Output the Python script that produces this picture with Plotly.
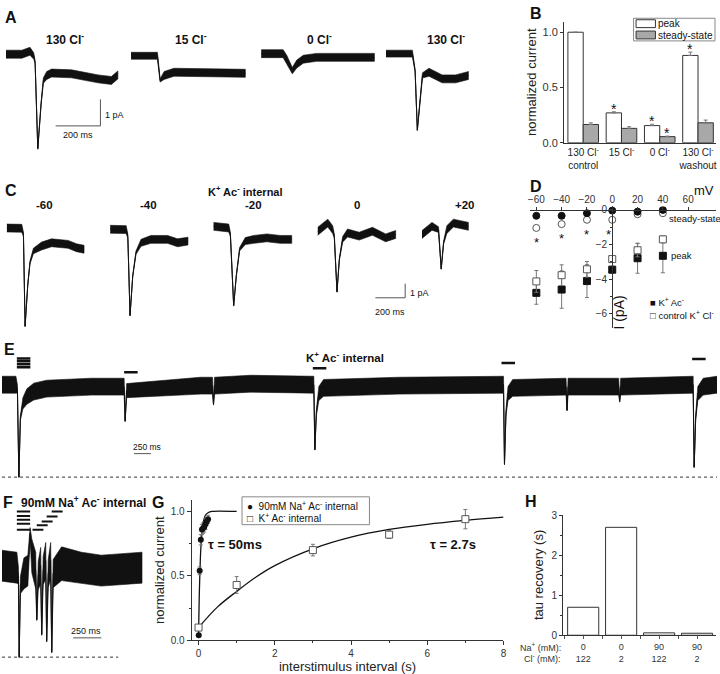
import numpy as np
import plotly.graph_objects as go

W, H = 720, 674
FONT = "Liberation Sans, Arial, Helvetica, sans-serif"

# ---------------- Panel A : example currents (ms from sweep start, pA) ----------------
A_TITLES = ["130 Cl<sup>-</sup>", "15 Cl<sup>-</sup>", "0 Cl<sup>-</sup>", "130 Cl<sup>-</sup>"]
A1_T = [0, 71, 107, 124, 130, 142, 157, 167, 182, 204, 293, 412, 471, 500]
A1_I = [0.0, 0.0, 0.11, -0.07, -0.30, -3.56, -1.85, -0.99, -0.80, -0.71, -0.74, -0.93, -0.99, -0.78]
A1_N = [0.15, 0.15, 0.15, 0.12, 0.05, 0.02, 0.04, 0.10, 0.15, 0.15, 0.15, 0.15, 0.15, 0.15]
A2_T = [0, 118, 130, 148, 192, 355, 511]
A2_I = [-0.06, -0.06, -0.99, -0.80, -0.68, -0.70, -0.72]
A2_N = [0.13, 0.13, 0.06, 0.15, 0.15, 0.15, 0.15]
A3_T = [0, 98, 114, 139, 159, 188, 247, 506]
A3_I = [0.02, 0.02, -0.19, -0.62, -0.37, -0.19, -0.12, -0.12]
A3_N = [0.15, 0.15, 0.15, 0.12, 0.15, 0.15, 0.15, 0.15]
A4_T = [0, 118, 130, 140, 151, 163, 192, 251, 311, 370]
A4_I = [0.02, 0.02, -0.62, -2.86, -1.85, -0.80, -0.68, -0.93, -0.93, -0.80]
A4_N = [0.13, 0.13, 0.05, 0.02, 0.04, 0.10, 0.15, 0.15, 0.15, 0.15]
A_SCALE = (200, 1)  # ms, pA

# ---------------- Panel B : normalized current ----------------
B_CATS = ["130 Cl<sup>-</sup><br>control", "15 Cl<sup>-</sup>", "0 Cl<sup>-</sup>", "130 Cl<sup>-</sup><br>washout"]
B_PEAK = [1.0, 0.27, 0.155, 0.79]
B_PEAK_ERR = [0.0, 0.01, 0.012, 0.03]
B_SS = [0.165, 0.13, 0.055, 0.18]
B_SS_ERR = [0.015, 0.015, 0.005, 0.025]
B_SIG_PEAK = [False, True, True, True]
B_SIG_SS = [False, False, True, False]

# ---------------- Panel C : K+ Ac- internal, voltage steps ----------------
C_TITLES = ["-60", "-40", "-20", "0", "+20"]
C1_T = [0, 100, 111, 122, 140, 155, 178, 233, 300, 411, 467, 518]
C1_I = [0.02, 0.0, -0.44, -6.97, -4.03, -2.43, -1.61, -1.26, -1.03, -1.14, -1.38, -1.49]
C1_N = [0.28, 0.28, 0.15, 0.03, 0.05, 0.10, 0.20, 0.28, 0.28, 0.28, 0.28, 0.28]
C2_T = [0, 107, 118, 133, 151, 173, 207, 273, 385, 452, 522]
C2_I = [-0.07, -0.09, -0.56, -6.20, -3.40, -1.73, -1.03, -0.79, -0.79, -1.03, -0.91]
C2_N = [0.28, 0.28, 0.15, 0.03, 0.05, 0.12, 0.25, 0.28, 0.28, 0.28, 0.28]
C3_T = [0, 102, 113, 135, 153, 175, 213, 269, 358, 447, 525]
C3_I = [0.14, 0.02, -0.44, -5.50, -3.36, -1.49, -0.91, -0.79, -0.68, -0.79, -0.79]
C3_N = [0.28, 0.28, 0.15, 0.03, 0.05, 0.12, 0.25, 0.28, 0.28, 0.28, 0.28]
C4_T = [0, 67, 100, 111, 129, 145, 167, 200, 278, 367, 456, 523]
C4_I = [-0.21, 0.37, -0.09, -0.56, -4.52, -2.19, -0.79, -0.33, -0.56, -0.21, -0.68, -0.44]
C4_N = [0.28, 0.28, 0.28, 0.15, 0.03, 0.08, 0.20, 0.28, 0.28, 0.28, 0.28, 0.28]
C5_T = [0, 67, 111, 129, 145, 167, 211, 256, 313]
C5_I = [-0.44, 0.14, -0.09, -2.89, -1.03, -0.09, 0.37, 0.26, 0.14]
C5_N = [0.28, 0.28, 0.20, 0.03, 0.10, 0.28, 0.28, 0.28, 0.28]
C_SCALE = (200, 1)

# ---------------- Panel D : I-V relation ----------------
D_V = [-60, -40, -20, 0, 20, 40]
D_PEAK_KAC = [-4.79, -4.60, -4.11, -3.45, -2.79, -2.65]
D_PEAK_KAC_ERR = [0.66, 1.08, 0.95, 0.20, 0.87, 0.98]
D_PEAK_KCL = [-4.13, -3.77, -3.43, -2.84, -2.33, -1.70]
D_PEAK_KCL_ERR = [0.63, 0.60, 0.45, 0.15, 0.38, 0.20]
D_SS_KAC = [-0.34, -0.34, -0.19, -0.04, -0.10, 0.0]
D_SS_KAC_ERR = [0.05, 0.05, 0.05, 0.05, 0.05, 0.05]
D_SS_KCL = [-1.04, -0.82, -0.57, -0.57, -0.25, -0.19]
D_SS_KCL_ERR = [0.12, 0.12, 0.10, 0.10, 0.05, 0.05]
D_SIG = [True, True, True, True, False, False]

# ---------------- Panel E : K+ Ac- internal, paired stimulation ----------------
E_T = [0, 206, 228, 250, 272, 309, 368, 470, 662, 1323, 1808, 1823, 1845, 2940, 3116, 3131, 3146,
       3675, 4616, 4631, 4653, 4690, 4760, 5880, 7424, 7438, 7460, 7490, 7560, 8350, 8364, 8379,
       8820, 9129, 9143, 9158, 10231, 10246, 10268, 10300, 10380, 10584]
E_I = [-0.07, -0.07, -0.35, -6.64, -2.45, -1.40, -0.91, -0.56, -0.35, -0.21, -0.21, -2.66, -0.49,
       -0.14, -0.14, -1.47, -0.14, 0.0, -0.07, -4.69, -2.10, -0.70, -0.30, -0.14, -0.07, -5.73,
       -2.10, -0.70, -0.30, -0.21, -1.89, -0.21, -0.21, -0.21, -1.26, -0.21, -0.07, -5.94, -2.45,
       -0.70, -0.21, -0.07]
E_N = [0.6, 0.6, 0.3, 0.03, 0.15, 0.4, 0.55, 0.6, 0.6, 0.6, 0.6, 0.05, 0.5, 0.6, 0.6, 0.05, 0.6,
       0.6, 0.6, 0.03, 0.2, 0.5, 0.6, 0.6, 0.6, 0.03, 0.2, 0.5, 0.6, 0.6, 0.05, 0.6, 0.6, 0.6, 0.05,
       0.6, 0.6, 0.03, 0.2, 0.5, 0.6, 0.6]
E_STIM_T = [220, 220, 220, 220, 1808, 4601, 7394, 10216]
E_STIM_LEVEL = [1.80, 1.59, 1.38, 1.17, 0.82, 1.10, 1.47, 1.75]
E_STIM_DUR = 200
E_SCALE_MS = 250

# ---------------- Panel F : 90 mM Na+ Ac- internal ----------------
F_T = [0, 132, 146, 153, 163, 194, 230, 250, 265, 300, 309, 322, 344, 353, 366, 389, 397, 411,
       433, 442, 455, 530, 706, 883, 1245]
F_I = [0.0, -0.14, -0.70, -6.50, -1.40, -0.56, -0.35, 2.31, 0.70, -0.35, -3.85, -0.70, 0.0, -4.90,
       -0.35, 0.35, -5.38, -0.56, 0.35, -6.15, -0.56, 0.14, -0.14, -0.35, -0.14]
F_N = [1.1, 1.1, 0.6, 0.05, 0.6, 1.1, 1.1, 0.4, 1.2, 1.3, 0.05, 1.0, 1.3, 0.05, 1.0, 1.3, 0.05,
       1.0, 1.3, 0.05, 1.0, 1.2, 1.1, 1.1, 1.1]
F_STIM_T = [132, 132, 132, 132, 132, 271, 309, 353, 397, 442]
F_STIM_DUR = [118, 118, 118, 118, 118, 97, 97, 97, 97, 97]
F_STIM_LEVEL = [3.85, 3.54, 3.26, 2.98, 2.56, 2.56, 2.87, 3.15, 3.50, 3.85]
F_SCALE_MS = 250

# ---------------- Panel G : recovery from desensitization ----------------
G_NA_T = [0.005, 0.03, 0.06, 0.09, 0.12, 0.15, 0.18, 0.21, 0.25]
G_NA_Y = [0.04, 0.54, 0.78, 0.86, 0.87, 0.88, 0.90, 0.92, 0.94]
G_NA_E = [0.01, 0.03, 0.04, 0.04, 0.04, 0.04, 0.04, 0.03, 0.03]
G_K_T = [0, 1, 3, 5, 7]
G_K_Y = [0.10, 0.43, 0.70, 0.82, 0.94]
G_K_E = [0.02, 0.065, 0.045, 0.03, 0.075]
G_FIT_NA_T = [0, 0.02, 0.05, 0.08, 0.12, 0.18, 0.25, 0.35, 1.0]
G_FIT_NA_Y = [0.04, 0.36, 0.65, 0.80, 0.91, 0.97, 0.99, 1.0, 1.0]
G_FIT_K_T = [0, 0.5, 1, 1.5, 2, 3, 4, 5, 6, 7, 8]
G_FIT_K_Y = [0.10, 0.26, 0.38, 0.49, 0.58, 0.71, 0.80, 0.86, 0.90, 0.93, 0.955]
G_TAU_LABELS = ["τ = 50ms", "τ = 2.7s"]

# ---------------- Panel H : tau recovery ----------------
H_NA = ["0", "0", "90", "90"]
H_CL = ["122", "2", "122", "2"]
H_TAU = [0.7, 2.7, 0.06, 0.05]

# =====================================================================
fig = go.Figure()


def xd(a, b):
    return [a / W, b / W]


def yd(top, bottom):
    return [1 - bottom / H, 1 - top / H]


def txt(x, y, s, size=11, bold=False, anchor="center", color="#111", angle=0, vanchor="middle"):
    fig.add_annotation(x=x / W, y=1 - y / H, xref="paper", yref="paper",
                       text=f"<b>{s}</b>" if bold else s, showarrow=False,
                       xanchor=anchor, yanchor=vanchor, textangle=angle, borderpad=0,
                       font=dict(size=size, family=FONT, color=color))


def band(t, cur, noise, off, ax):
    t = np.asarray(t, float) + off
    cur = np.asarray(cur, float)
    noise = np.asarray(noise, float)
    xs = np.concatenate([t, t[::-1]])
    ys = np.concatenate([cur + noise, (cur - noise)[::-1]])
    fig.add_trace(go.Scatter(x=xs, y=ys, mode="lines", fill="toself", fillcolor="#111",
                             line=dict(width=0.6, color="#111"), xaxis="x" + ax, yaxis="y" + ax,
                             hoverinfo="skip", showlegend=False))
    fig.add_trace(go.Scatter(x=t, y=cur, mode="lines", line=dict(width=1, color="#111"),
                             xaxis="x" + ax, yaxis="y" + ax, hoverinfo="skip", showlegend=False))


def seg(x0, x1, y0, y1, ax, width=1, color="#333"):
    fig.add_trace(go.Scatter(x=[x0, x1], y=[y0, y1], mode="lines", line=dict(width=width, color=color),
                             xaxis="x" + ax, yaxis="y" + ax, hoverinfo="skip", showlegend=False))


hidden = dict(visible=False, showgrid=False, zeroline=False)

# ---------------- Panel A ----------------
A_MS_PER_PX, A_PX_PER_PA = 4.44, 27.0
A_START = [18, 577, 1159, 1717]
for (t, i, n), off in zip([(A1_T, A1_I, A1_N), (A2_T, A2_I, A2_N), (A3_T, A3_I, A3_N), (A4_T, A4_I, A4_N)], A_START):
    band(t, i, n, off, "")
fig.update_layout(
    xaxis=dict(domain=xd(0, 470), range=[0, 470 * A_MS_PER_PX], anchor="y", **hidden),
    yaxis=dict(domain=yd(28, 165), range=[-(165 - 50) / A_PX_PER_PA, (50 - 28) / A_PX_PER_PA], anchor="x", **hidden),
)
a_cx, a_cy = 440, -2.70
seg(a_cx, a_cx, a_cy, a_cy + A_SCALE[1], "", 1, "#555")
seg(a_cx - A_SCALE[0], a_cx, a_cy, a_cy, "", 1, "#555")
txt(103, 112, "1 pA", 9, anchor="left")
txt(77, 132, "200 ms", 9)
for xpx, s in zip([63, 190, 320, 447], A_TITLES):
    txt(xpx, 35, s, 12, bold=True)

# ---------------- Panel B ----------------
cats = list(range(len(B_CATS)))
fig.add_trace(go.Bar(x=cats, y=B_PEAK, width=0.4, offset=-0.4, xaxis="x2", yaxis="y2", name="peak",
                     marker=dict(color="white", line=dict(color="#333", width=1)),
                     error_y=dict(type="data", array=B_PEAK_ERR, arrayminus=[0] * 4, color="#777",
                                  thickness=1, width=2), showlegend=False))
fig.add_trace(go.Bar(x=cats, y=B_SS, width=0.4, offset=0.0, xaxis="x2", yaxis="y2", name="steady-state",
                     marker=dict(color="#a8a8a8", line=dict(color="#333", width=1)),
                     error_y=dict(type="data", array=B_SS_ERR, arrayminus=[0] * 4, color="#777",
                                  thickness=1, width=2), showlegend=False))
for c in cats:
    if B_SIG_PEAK[c]:
        fig.add_annotation(x=c - 0.2, y=B_PEAK[c] + B_PEAK_ERR[c], xref="x2", yref="y2", text="*",
                           showarrow=False, yanchor="bottom", yshift=-7,
                           font=dict(size=14, family=FONT, color="#111"))
    if B_SIG_SS[c]:
        fig.add_annotation(x=c + 0.2, y=B_SS[c] + B_SS_ERR[c], xref="x2", yref="y2", text="*",
                           showarrow=False, yanchor="bottom", yshift=-7,
                           font=dict(size=14, family=FONT, color="#111"))
fig.update_layout(
    xaxis2=dict(domain=xd(566, 719), range=[-0.5, 3.47], anchor="y2", showline=True, linecolor="#333",
                linewidth=1, ticks="", tickvals=cats, ticktext=B_CATS, showgrid=False, zeroline=False,
                tickfont=dict(size=10, color="#222", family=FONT)),
    yaxis2=dict(domain=yd(17, 140), range=[0, 1.095], anchor="x2", showline=True, linecolor="#333",
                linewidth=1, ticks="outside", ticklen=3, tickcolor="#333", dtick=0.5, tick0=0,
                tickformat=".1f", showgrid=False, zeroline=False,
                tickfont=dict(size=11, color="#333", family=FONT),
                title=dict(text="normalized current", font=dict(size=13, family=FONT, color="#222"), standoff=3)),
)
# legend B (manual)
fig.add_shape(type="rect", xref="paper", yref="paper", x0=636 / W, x1=718 / W, y0=1 - 36.5 / H, y1=1 - 13.5 / H,
              line=dict(color="#888", width=1), fillcolor="white")
fig.add_shape(type="rect", xref="paper", yref="paper", x0=638.5 / W, x1=658 / W, y0=1 - 23 / H, y1=1 - 15 / H,
              line=dict(color="#333", width=1), fillcolor="white")
fig.add_shape(type="rect", xref="paper", yref="paper", x0=638.5 / W, x1=658 / W, y0=1 - 34.5 / H, y1=1 - 26.5 / H,
              line=dict(color="#333", width=1), fillcolor="#a8a8a8")
txt(660, 19, "peak", 10, anchor="left")
txt(660, 30.5, "steady-state", 10, anchor="left")

# ---------------- Panel C ----------------
C_MS_PER_PX, C_PX_PER_PA = 6.67, 14.3
C_START = [33, 727, 1421, 2121, 2821]
for (t, i, n), off in zip([(C1_T, C1_I, C1_N), (C2_T, C2_I, C2_N), (C3_T, C3_I, C3_N),
                           (C4_T, C4_I, C4_N), (C5_T, C5_I, C5_N)], C_START):
    band(t, i, n, off, "3")
fig.update_layout(
    xaxis3=dict(domain=xd(0, 470), range=[0, 470 * C_MS_PER_PX], anchor="y3", **hidden),
    yaxis3=dict(domain=yd(195, 335), range=[-(335 - 227) / C_PX_PER_PA, (227 - 195) / C_PX_PER_PA], anchor="x3", **hidden),
)
c_cx, c_cy = 2708, -4.94
seg(c_cx, c_cx, c_cy, c_cy + C_SCALE[1], "3", 1, "#555")
seg(c_cx - C_SCALE[0], c_cx, c_cy, c_cy, "3", 1, "#555")
txt(410, 293, "1 pA", 9, anchor="left")
txt(391, 312, "200 ms", 9)
txt(245, 189, "K<sup>+</sup> Ac<sup>-</sup> internal", 11, bold=True)
for xpx, s in zip([43, 148, 253, 357, 466], C_TITLES):
    txt(xpx, 203, s, 11.5, bold=True)

# ---------------- Panel D ----------------
fig.add_trace(go.Scatter(x=D_V, y=D_PEAK_KAC, mode="markers", xaxis="x4", yaxis="y4", name="K<sup>+</sup> Ac<sup>-</sup>",
                         marker=dict(symbol="square", size=7, color="#111", line=dict(color="#111", width=1)),
                         error_y=dict(type="data", array=D_PEAK_KAC_ERR, color="#777", thickness=1, width=2),
                         showlegend=False))
fig.add_trace(go.Scatter(x=D_V, y=D_PEAK_KCL, mode="markers", xaxis="x4", yaxis="y4", name="control K<sup>+</sup> Cl<sup>-</sup>",
                         marker=dict(symbol="square", size=7, color="white", line=dict(color="#555", width=1)),
                         error_y=dict(type="data", array=D_PEAK_KCL_ERR, color="#777", thickness=1, width=2),
                         showlegend=False))
fig.add_trace(go.Scatter(x=D_V, y=D_SS_KCL, mode="markers", xaxis="x4", yaxis="y4",
                         marker=dict(symbol="circle", size=7, color="white", line=dict(color="#555", width=1)),
                         error_y=dict(type="data", array=D_SS_KCL_ERR, color="#777", thickness=1, width=2),
                         showlegend=False))
fig.add_trace(go.Scatter(x=D_V, y=D_SS_KAC, mode="markers", xaxis="x4", yaxis="y4",
                         marker=dict(symbol="circle", size=7, color="#111", line=dict(color="#111", width=1)),
                         error_y=dict(type="data", array=D_SS_KAC_ERR, color="#777", thickness=1, width=2),
                         showlegend=False))
for v, ss, e, sig in zip(D_V, D_SS_KCL, D_SS_KCL_ERR, D_SIG):
    if sig:
        fig.add_annotation(x=v, y=ss - e - 0.55, xref="x4", yref="y4", text="*", showarrow=False,
                           yanchor="middle", yshift=-3, xshift=-4 if v == 0 else 0,
                           font=dict(size=13, family=FONT, color="#111"))
fig.update_layout(
    xaxis4=dict(domain=xd(531.7, 719), range=[-65, 82], anchor="free", position=1 - 208.3 / H, side="top",
                showline=True, linecolor="#333", linewidth=1, ticks="outside", ticklen=3, tickcolor="#333",
                tickvals=[-60, -40, -20, 0, 20, 40, 60], showgrid=False, zeroline=False,
                tickfont=dict(size=10, color="#333", family=FONT)),
    yaxis4=dict(domain=yd(204.8, 328), range=[-6.8, 0.2], anchor="free", position=614.3 / W, side="left",
                showline=True, linecolor="#333", linewidth=1, ticks="outside", ticklen=3, tickcolor="#333",
                tickvals=[0, -2, -4, -6], showgrid=False, zeroline=False,
                minor=dict(tickvals=[-1, -3, -5], ticks="outside", ticklen=2, tickcolor="#333"),
                tickfont=dict(size=10, color="#333", family=FONT)),
)
txt(707, 189, "mV", 13)
txt(621, 313, "I (pA)", 14, angle=-90)
txt(671, 217, "steady-state", 9.5, anchor="left")
txt(673, 255, "peak", 9.5, anchor="left")
txt(652, 302, "■ K<sup>+</sup> Ac<sup>-</sup>", 9.5, anchor="left")
txt(652, 315, "□ control K<sup>+</sup> Cl<sup>-</sup>", 9.5, anchor="left")

# ---------------- Panel E ----------------
E_MS_PER_PX, E_PX_PER_PA = 14.7, 14.3
band(E_T, E_I, E_N, 0, "5")
for t0, lev in zip(E_STIM_T, E_STIM_LEVEL):
    seg(t0, t0 + E_STIM_DUR, lev, lev, "5", 2.5, "#111")
fig.update_layout(
    xaxis5=dict(domain=xd(0, 720), range=[0, 720 * E_MS_PER_PX], anchor="y5", **hidden),
    yaxis5=dict(domain=yd(343, 484), range=[-(484 - 385) / E_PX_PER_PA, (385 - 343) / E_PX_PER_PA], anchor="x5", **hidden),
)
fig.add_shape(type="line", xref="paper", yref="y5", x0=0, x1=1, y0=min(E_I), y1=min(E_I),
              line=dict(color="#333", width=1, dash="dot"))
seg(1955, 1955 + E_SCALE_MS, -4.97, -4.97, "5", 1, "#555")
txt(146, 449, "250 ms", 8.5)
txt(345, 358, "K<sup>+</sup> Ac<sup>-</sup> internal", 11.5, bold=True)

# ---------------- Panel F ----------------
F_MS_PER_PX, F_PX_PER_PA = 8.83, 14.3
band(F_T, F_I, F_N, 0, "6")
for t0, d, lev in zip(F_STIM_T, F_STIM_DUR, F_STIM_LEVEL):
    seg(t0, t0 + d, lev, lev, "6", 2, "#111")
fig.update_layout(
    xaxis6=dict(domain=xd(0, 150), range=[0, 150 * F_MS_PER_PX], anchor="y6", **hidden),
    yaxis6=dict(domain=yd(510, 668), range=[-(668 - 570) / F_PX_PER_PA, (570 - 510) / F_PX_PER_PA], anchor="x6", **hidden),
)
fig.add_shape(type="line", xref="paper", yref="y6", x0=0, x1=117 / W, y0=min(F_I), y1=min(F_I),
              line=dict(color="#333", width=1, dash="dot"))
seg(633, 633 + F_SCALE_MS, -5.13, -5.13, "6", 1, "#555")
txt(85, 636, "250 ms", 9)
txt(18, 505, "90mM Na<sup>+</sup> Ac<sup>-</sup> internal", 12, bold=True, anchor="left")

# ---------------- Panel G ----------------
fig.add_trace(go.Scatter(x=G_FIT_K_T, y=G_FIT_K_Y, mode="lines", line=dict(color="#111", width=1.3, shape="spline"),
                         xaxis="x7", yaxis="y7", showlegend=False, hoverinfo="skip"))
fig.add_trace(go.Scatter(x=G_FIT_NA_T, y=G_FIT_NA_Y, mode="lines", line=dict(color="#111", width=1.3, shape="spline", smoothing=0.6),
                         xaxis="x7", yaxis="y7", showlegend=False, hoverinfo="skip"))
fig.add_trace(go.Scatter(x=G_K_T, y=G_K_Y, mode="markers", xaxis="x7", yaxis="y7", name="K<sup>+</sup> Ac<sup>-</sup> internal",
                         marker=dict(symbol="square", size=7, color="white", line=dict(color="#555", width=1)),
                         error_y=dict(type="data", array=G_K_E, color="#777", thickness=1, width=2),
                         showlegend=False))
fig.add_trace(go.Scatter(x=G_NA_T, y=G_NA_Y, mode="markers", xaxis="x7", yaxis="y7", name="90mM Na<sup>+</sup> Ac<sup>-</sup> internal",
                         marker=dict(symbol="circle", size=6, color="#111"),
                         error_y=dict(type="data", array=G_NA_E, color="#777", thickness=1, width=2),
                         showlegend=False))
fig.update_layout(
    xaxis7=dict(domain=xd(191, 505), range=[-0.18, 8.0], anchor="y7", showline=True, linecolor="#333",
                linewidth=1, ticks="outside", ticklen=4, tickcolor="#333", dtick=2, tick0=0,
                minor=dict(dtick=1, ticks="outside", ticklen=2, tickcolor="#333"),
                showgrid=False, zeroline=False, tickfont=dict(size=10, color="#333", family=FONT),
                title=dict(text="interstimulus interval (s)", font=dict(size=13, family=FONT, color="#222"), standoff=0)),
    yaxis7=dict(domain=yd(503, 646), range=[0, 1.09], anchor="x7", showline=True, linecolor="#333",
                linewidth=1, ticks="outside", ticklen=4, tickcolor="#333", dtick=0.5, tick0=0, tickformat=".1f",
                minor=dict(dtick=0.25, ticks="outside", ticklen=2, tickcolor="#333"),
                showgrid=False, zeroline=False, tickfont=dict(size=10, color="#333", family=FONT),
                title=dict(text="normalized current", font=dict(size=13, family=FONT, color="#222"), standoff=3)),
)
fig.add_shape(type="rect", xref="paper", yref="paper", x0=241.7 / W, x1=370 / W, y0=1 - 528.3 / H, y1=1 - 500 / H,
              line=dict(color="#888", width=1), fillcolor="white")
txt(246, 509, "●  90mM Na<sup>+</sup> Ac<sup>-</sup> internal", 10, anchor="left")
txt(246, 522, "□  K<sup>+</sup> Ac<sup>-</sup> internal", 10, anchor="left")
txt(206, 548, G_TAU_LABELS[0], 13, bold=True, anchor="left")
txt(430, 548, G_TAU_LABELS[1], 13, bold=True, anchor="left")

# ---------------- Panel H ----------------
hcats = list(range(len(H_TAU)))
fig.add_trace(go.Bar(x=hcats, y=H_TAU, width=0.82, xaxis="x8", yaxis="y8",
                     marker=dict(color="white", line=dict(color="#333", width=1)), showlegend=False))
fig.update_layout(
    xaxis8=dict(domain=xd(565, 719), range=[-0.53, 3.5], anchor="y8", showline=True, linecolor="#333",
                linewidth=1, ticks="outside", ticklen=3, tickcolor="#555", tickvals=hcats,
                ticktext=[f"{a}<br>{b}" for a, b in zip(H_NA, H_CL)],
                minor=dict(tickvals=[-0.5, 0.5, 1.5, 2.5], ticks="outside", ticklen=3, tickcolor="#555"),
                showgrid=False, zeroline=False, tickfont=dict(size=9, color="#333", family=FONT)),
    yaxis8=dict(domain=yd(518, 640.7), range=[0, 3.02], anchor="x8", showline=True, linecolor="#333",
                linewidth=1, ticks="outside", ticklen=3, tickcolor="#333", dtick=1, tick0=0,
                minor=dict(dtick=0.5, ticks="outside", ticklen=2, tickcolor="#333"),
                showgrid=False, zeroline=False, tickfont=dict(size=10, color="#333", family=FONT),
                title=dict(text="tau recovery (s)", font=dict(size=13, family=FONT, color="#222"), standoff=4)),
)
txt(564, 652.7, "Na<sup>+</sup> (mM):", 9, anchor="right", color="#333")
txt(564, 664, "Cl<sup>-</sup> (mM):", 9, anchor="right", color="#333")

# ---------------- panel letters ----------------
for (xp, yp, s) in [(9, 13, "A"), (538, 9, "B"), (9, 189, "C"), (538, 185, "D"),
                    (8, 350, "E"), (6, 506, "F"), (157, 506, "G"), (533, 505, "H")]:
    txt(xp, yp, s, 16, bold=True)

fig.update_layout(
    width=W, height=H, margin=dict(l=0, r=0, t=0, b=0),
    paper_bgcolor="white", plot_bgcolor="white", showlegend=False,
    font=dict(family=FONT, color="#111"), barmode="overlay",
)

fig.write_html("out.html", config={"displayModeBar": False, "staticPlot": True},
               post_script="document.body.style.margin='0px';document.body.style.overflow='hidden';")
